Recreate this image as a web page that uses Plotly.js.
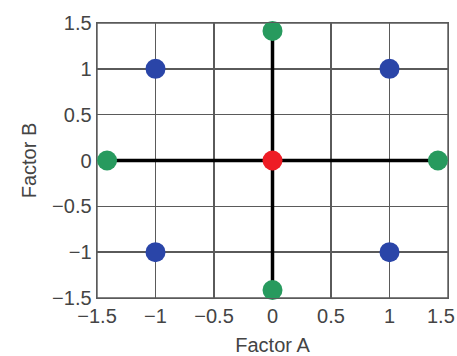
<!DOCTYPE html>
<html><head><meta charset="utf-8">
<script src="https://cdn.plot.ly/plotly-3.0.1.min.js"></script>
<style>html,body{margin:0;padding:0;background:#fff;}</style>
</head><body>
<div id="chart" style="width:457px;height:356px;"></div>
<script>
const alpha = 1.414;
const factorialA = [-1, 1, -1, 1];
const factorialB = [-1, -1, 1, 1];
const axialA = [-alpha, alpha, 0, 0];
const axialB = [0, 0, -alpha, alpha];
const centerA = [0];
const centerB = [0];
const tickVals = [-1.5, -1, -0.5, 0, 0.5, 1, 1.5];
const tickText = ["\u22121.5", "\u22121", "\u22120.5", "0", "0.5", "1", "1.5"];

const traces = [
  {x: [axialA[0], axialA[1]], y: [axialB[0], axialB[1]], mode: 'lines', line: {color: '#000', width: 3.5}, hoverinfo: 'skip', cliponaxis: false},
  {x: [axialA[2], axialA[3]], y: [axialB[2], axialB[3]], mode: 'lines', line: {color: '#000', width: 3.5}, hoverinfo: 'skip', cliponaxis: false},
  {x: factorialA, y: factorialB, mode: 'markers', marker: {color: '#2a45a8', size: 20}, cliponaxis: false},
  {x: axialA, y: axialB, mode: 'markers', marker: {color: '#279a5e', size: 20}, cliponaxis: false},
  {x: centerA, y: centerB, mode: 'markers', marker: {color: '#ee1c25', size: 20}, cliponaxis: false}
];

const fontFam = 'Liberation Sans, Arial, sans-serif';
const tickFont = {family: fontFam, size: 20, color: '#444'};
const axisCommon = {
  range: [-1.5, 1.5],
  showgrid: true,
  gridcolor: '#5a5a5a',
  gridwidth: 1.4,
  zeroline: false,
  showline: true,
  linecolor: '#5a5a5a',
  linewidth: 1.4,
  mirror: true,
  ticks: '',
  ticklabeloverflow: 'allow',
  automargin: false,
  tickfont: tickFont
};

// last x label drawn as an annotation so it can sit flush inside the right edge
const xTickText = tickText.slice(0, -1);

const layout = {
  width: 457, height: 356,
  margin: {l: 97, r: 9, t: 23, b: 58},
  paper_bgcolor: '#fff',
  plot_bgcolor: '#fff',
  showlegend: false,
  xaxis: Object.assign({}, axisCommon, {tickvals: tickVals, ticktext: xTickText.concat(['']), title: {text: 'Factor A', standoff: 12, font: {family: fontFam, size: 20, color: '#444'}}}),
  yaxis: Object.assign({}, axisCommon, {tickvals: tickVals, ticktext: tickText, title: {text: 'Factor B', standoff: 10, font: {family: fontFam, size: 20, color: '#444'}}}),
  shapes: [{type: 'rect', xref: 'paper', yref: 'paper', x0: 0, x1: 1, y0: 0, y1: 1, line: {color: '#5a5a5a', width: 1.4}, layer: 'below'}],
  annotations: [{
    x: tickVals[tickVals.length - 1], xref: 'x', y: 0, yref: 'paper',
    text: tickText[tickText.length - 1], showarrow: false,
    xanchor: 'right', yanchor: 'top', xshift: 8, yshift: -6,
    font: tickFont, borderpad: 0
  }]
};

Plotly.newPlot('chart', traces, layout, {displayModeBar: false, staticPlot: true});
</script>
</body></html>
